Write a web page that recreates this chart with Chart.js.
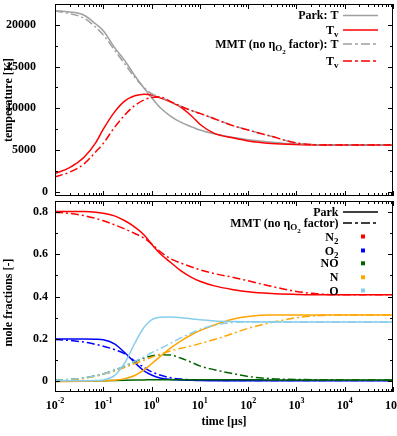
<!DOCTYPE html>
<html>
<head>
<meta charset="utf-8">
<script src="https://cdn.jsdelivr.net/npm/chart.js@4.4.1/dist/chart.umd.min.js"></script>
<style>
  html, body { margin: 0; padding: 0; background: #fff; }
  #wrap { position: relative; width: 397px; height: 436px; overflow: hidden; }
  #wrap canvas { position: absolute; left: 0; }
  #cTemp { top: 0; }
  #cMole { top: 196px; }
</style>
</head>
<body>
<div id="wrap">
  <canvas id="cTemp" width="397" height="200"></canvas>
  <canvas id="cMole" width="397" height="240"></canvas>
</div>
<script>
// ================== DATA ==================
const times = [0.01, 0.02, 0.04, 0.07, 0.1, 0.17, 0.28, 0.45, 0.7, 1, 1.5, 2.5, 4, 7, 10, 20, 50, 100, 300, 1000, 3000, 1e4, 1e5];

// temperature [K]
const parkT  = [21700, 21550, 21150, 20100, 19300, 17300, 15700, 13900, 12400, 11300, 10100, 9050, 8350, 7750, 7400, 6950, 6500, 6250, 5950, 5720, 5630, 5600, 5600];
const parkTv = [2200, 2900, 4150, 5900, 7500, 9550, 10900, 11500, 11700, 11600, 11250, 10750, 10150, 9000, 8100, 7000, 6450, 6100, 5800, 5660, 5610, 5600, 5600];
const mmtT   = [21650, 21350, 20800, 19700, 18800, 17000, 15300, 13700, 12500, 11750, 11350, 10800, 10250, 9700, 9400, 8750, 7900, 7400, 6650, 5850, 5620, 5600, 5600];
const mmtTv  = [1800, 2350, 3350, 4800, 5800, 7700, 9230, 10350, 11000, 11300, 11350, 10800, 10250, 9700, 9400, 8750, 7900, 7400, 6650, 5850, 5620, 5600, 5600];

// mole fractions [-]
const parkN2 = [0.800, 0.800, 0.800, 0.797, 0.792, 0.780, 0.757, 0.727, 0.690, 0.647, 0.603, 0.560, 0.522, 0.488, 0.472, 0.450, 0.432, 0.422, 0.414, 0.410, 0.408, 0.408, 0.408];
const mmtN2  = [0.797, 0.792, 0.781, 0.768, 0.757, 0.738, 0.718, 0.697, 0.675, 0.648, 0.612, 0.577, 0.558, 0.538, 0.526, 0.508, 0.490, 0.474, 0.448, 0.424, 0.412, 0.408, 0.408];
const parkO2 = [0.200, 0.200, 0.200, 0.199, 0.196, 0.177, 0.135, 0.088, 0.050, 0.030, 0.016, 0.009, 0.006, 0.005, 0.004, 0.003, 0.003, 0.003, 0.003, 0.003, 0.003, 0.003, 0.003];
const mmtO2  = [0.197, 0.193, 0.185, 0.174, 0.166, 0.150, 0.130, 0.095, 0.066, 0.045, 0.030, 0.017, 0.011, 0.007, 0.006, 0.005, 0.004, 0.004, 0.004, 0.004, 0.004, 0.004, 0.004];
const parkNO = [0.000, 0.001, 0.001, 0.002, 0.003, 0.004, 0.005, 0.006, 0.007, 0.008, 0.008, 0.008, 0.008, 0.008, 0.008, 0.008, 0.008, 0.008, 0.007, 0.007, 0.007, 0.007, 0.007];
const mmtNO  = [0.005, 0.009, 0.016, 0.026, 0.035, 0.053, 0.072, 0.093, 0.110, 0.120, 0.126, 0.124, 0.110, 0.088, 0.073, 0.055, 0.036, 0.023, 0.013, 0.009, 0.008, 0.007, 0.007];
const parkN  = [0.000, 0.000, 0.001, 0.002, 0.003, 0.005, 0.013, 0.028, 0.054, 0.083, 0.117, 0.158, 0.190, 0.222, 0.239, 0.266, 0.294, 0.306, 0.313, 0.313, 0.313, 0.313, 0.313];
const mmtN   = [0.003, 0.007, 0.014, 0.025, 0.034, 0.048, 0.066, 0.084, 0.100, 0.114, 0.128, 0.144, 0.156, 0.168, 0.178, 0.197, 0.227, 0.250, 0.277, 0.300, 0.310, 0.313, 0.313];
const parkO  = [0.003, 0.003, 0.003, 0.004, 0.007, 0.027, 0.088, 0.180, 0.255, 0.290, 0.302, 0.303, 0.300, 0.294, 0.290, 0.285, 0.282, 0.281, 0.280, 0.280, 0.280, 0.280, 0.280];
const mmtO   = [0.005, 0.009, 0.016, 0.026, 0.035, 0.053, 0.073, 0.095, 0.115, 0.135, 0.154, 0.180, 0.205, 0.230, 0.245, 0.265, 0.278, 0.280, 0.280, 0.280, 0.280, 0.280, 0.280];

// ticks
const xExponents = [-2, -1, 0, 1, 2, 3, 4, 5];
const tempTicks  = [0, 5000, 10000, 15000, 20000];
const moleTicks  = [0, 0.2, 0.4, 0.6, 0.8];

// ================== STYLE HELPERS ==================
const SERIF = '"Liberation Serif", "DejaVu Serif", serif';
const DASHDOT = [8, 3, 2, 3];
const C = { gray: '#a0a0a0', red: '#ff0000', blue: '#0000ff', green: '#006400', orange: '#ffa500', sky: '#87ceeb' };

const pts = (arr) => arr.map((v, i) => ({ x: times[i], y: v }));

function line(data, color, dashed, order) {
  return {
    data: pts(data), borderColor: color, borderWidth: 1.5,
    borderDash: dashed ? DASHDOT : [], pointRadius: 0,
    cubicInterpolationMode: 'monotone', fill: false, order
  };
}

// text with sub/sub-sub scripts: parts = [[text, level], ...]
const LEVEL = [{ s: 12, dy: 0 }, { s: 9, dy: 3 }, { s: 7, dy: 6 }];
function richWidth(ctx, parts) {
  let w = 0;
  parts.forEach(([t, l]) => { ctx.font = `bold ${LEVEL[l].s}px ${SERIF}`; w += ctx.measureText(t).width; });
  return w;
}
function drawRich(ctx, parts, xRight, yMid) {
  let x = xRight - richWidth(ctx, parts);
  ctx.textAlign = 'left';
  ctx.textBaseline = 'alphabetic';
  parts.forEach(([t, l]) => {
    ctx.font = `bold ${LEVEL[l].s}px ${SERIF}`;
    ctx.fillText(t, x, yMid + 4 + LEVEL[l].dy);
    x += ctx.measureText(t).width;
  });
}

// ================== PLUGINS ==================
// gnuplot-like frame with inward, mirrored ticks
const framePlugin = {
  id: 'frame',
  afterDatasetsDraw(chart, args, o) {
    const { ctx, chartArea: a, scales: { x, y } } = chart;
    ctx.save();
    ctx.strokeStyle = '#000';
    ctx.lineWidth = 1;
    ctx.beginPath();
    xExponents.forEach(e => {
      for (let m = 1; m <= 9; m++) {
        const v = m * Math.pow(10, e);
        if (v > x.max) break;
        const px = Math.round(x.getPixelForValue(v)) + 0.5;
        const len = m === 1 ? 5 : 3;
        ctx.moveTo(px, a.bottom); ctx.lineTo(px, a.bottom - len);
        ctx.moveTo(px, a.top); ctx.lineTo(px, a.top + len);
      }
    });
    for (let v = o.minorStart; v <= y.max + 1e-9; v += o.minor) {
      const py = Math.round(y.getPixelForValue(v)) + 0.5;
      const major = Math.abs(v / o.major - Math.round(v / o.major)) < 1e-6;
      const len = major ? 5 : 3;
      ctx.moveTo(a.left, py); ctx.lineTo(a.left + len, py);
      ctx.moveTo(a.right, py); ctx.lineTo(a.right - len, py);
    }
    ctx.stroke();
    ctx.strokeRect(Math.round(a.left) + 0.5, Math.round(a.top) + 0.5,
                   Math.round(a.right - a.left) - 1, Math.round(a.bottom - a.top) - 1);

    // y title
    ctx.fillStyle = '#000';
    ctx.font = `bold 12px ${SERIF}`;
    ctx.textAlign = 'center';
    ctx.textBaseline = 'middle';
    ctx.translate(8.5, o.titleY);
    ctx.rotate(-Math.PI / 2);
    ctx.fillText(o.title, 0, 0);
    ctx.restore();
  }
};

const legendPlugin = {
  id: 'gLegend',
  afterDraw(chart, args, o) {
    const ctx = chart.ctx;
    ctx.save();
    ctx.fillStyle = '#000';
    o.items.forEach(it => {
      drawRich(ctx, it.parts, 338.5, it.y);
      if (it.kind === 'square') {
        ctx.fillStyle = it.color;
        ctx.fillRect(361, it.y - 2, 4, 4);
        ctx.fillStyle = '#000';
      } else {
        ctx.strokeStyle = it.color;
        ctx.lineWidth = 1.5;
        ctx.setLineDash(it.dash ? [9, 3, 3, 3] : []);
        ctx.beginPath();
        ctx.moveTo(343, it.y + 0.5); ctx.lineTo(378, it.y + 0.5);
        ctx.stroke();
        ctx.setLineDash([]);
      }
    });
    ctx.restore();
  }
};

const xLabelsPlugin = {
  id: 'xLabels',
  afterDraw(chart, args, o) {
    if (!o.show) return;
    const { ctx, chartArea: a, scales: { x } } = chart;
    ctx.save();
    ctx.fillStyle = '#000';
    ctx.textBaseline = 'alphabetic';
    ctx.textAlign = 'left';
    xExponents.forEach(e => {
      const px = x.getPixelForValue(Math.pow(10, e));
      ctx.font = `bold 12px ${SERIF}`;
      const wb = ctx.measureText('10').width;
      ctx.font = `bold 8px ${SERIF}`;
      const ws = ctx.measureText(String(e)).width;
      const x0 = px - (wb + ws) / 2;
      ctx.font = `bold 12px ${SERIF}`;
      ctx.fillText('10', x0, a.bottom + 16.5);
      ctx.font = `bold 8px ${SERIF}`;
      ctx.fillText(String(e), x0 + wb, a.bottom + 10.5);
    });
    ctx.font = `bold 12px ${SERIF}`;
    ctx.textAlign = 'center';
    ctx.textBaseline = 'middle';
    ctx.fillText('time [\u03bcs]', (a.left + a.right) / 2, a.bottom + 30);
    ctx.restore();
  }
};

// ================== CHART BUILDERS ==================
Chart.defaults.font.family = SERIF;
Chart.defaults.color = '#000';

function yAxis(min, max, ticks, fmt) {
  return {
    type: 'linear', min, max,
    grid: { display: false, drawTicks: false },
    border: { display: false },
    afterBuildTicks: s => { s.ticks = ticks.map(v => ({ value: v })); },
    afterFit: s => { s.width = 55; s.paddingTop = 0; s.paddingBottom = 0; },
    ticks: { padding: 7, font: { size: 12, weight: 'bold' }, callback: fmt }
  };
}
const xAxis = () => ({ type: 'logarithmic', min: 0.01, max: 1e5, display: false });

// nudge layout padding so the plot frame lands where the reference has it
function pinArea(chart, want) {
  for (let i = 0; i < 3; i++) {
    const a = chart.chartArea;
    const p = chart.config.options.layout.padding;
    p.top += want.top - a.top;
    p.bottom += a.bottom - want.bottom;
    p.left += want.left - a.left;
    p.right += a.right - want.right;
    chart.update();
  }
}

const tempChart = new Chart(document.getElementById('cTemp'), {
  type: 'line',
  data: {
    datasets: [
      line(parkT, C.gray, false, 4),
      line(parkTv, C.red, false, 3),
      line(mmtT, C.gray, true, 2),
      line(mmtTv, C.red, true, 1)
    ]
  },
  options: {
    responsive: false, animation: false, events: [],
    layout: { padding: { top: 4, right: 4, bottom: 4, left: 0 } },
    scales: {
      x: xAxis(),
      y: yAxis(-500, 22500, tempTicks, v => v === 0 ? '0' : v + '\u2007\u2007')
    },
    plugins: {
      legend: { display: false }, tooltip: { enabled: false },
      frame: { major: 5000, minor: 2500, minorStart: 0, title: 'temperature [K]', titleY: 100 },
      gLegend: {
        items: [
          { parts: [['Park: T', 0]], y: 15, color: C.gray },
          { parts: [['T', 0], ['v', 1]], y: 29.5, color: C.red },
          { parts: [['MMT (no ', 0], ['\u03b7', 0], ['O', 1], ['2', 2], [' factor): T', 0]], y: 43.5, color: C.gray, dash: true },
          { parts: [['T', 0], ['v', 1]], y: 60.5, color: C.red, dash: true }
        ]
      },
      xLabels: { show: false }
    }
  },
  plugins: [framePlugin, legendPlugin, xLabelsPlugin]
});
pinArea(tempChart, { top: 4, bottom: 196, left: 55, right: 393 });

const moleChart = new Chart(document.getElementById('cMole'), {
  type: 'line',
  data: {
    datasets: [
      line(parkN2, C.red, false, 10),
      line(mmtN2, C.red, true, 9),
      line(parkO2, C.blue, false, 8),
      line(mmtO2, C.blue, true, 7),
      line(parkNO, C.green, false, 6),
      line(mmtNO, C.green, true, 5),
      line(parkN, C.orange, false, 4),
      line(mmtN, C.orange, true, 3),
      line(parkO, C.sky, false, 2),
      line(mmtO, C.sky, true, 1)
    ]
  },
  options: {
    responsive: false, animation: false, events: [],
    layout: { padding: { top: 5, right: 4, bottom: 44, left: 0 } },
    scales: {
      x: xAxis(),
      y: yAxis(-0.05, 0.85, moleTicks, v => String(Math.round(v * 10) / 10))
    },
    plugins: {
      legend: { display: false }, tooltip: { enabled: false },
      frame: { major: 0.2, minor: 0.1, minorStart: 0, title: 'mole fractions [-]', titleY: 106.5 },
      gLegend: {
        items: [
          { parts: [['Park', 0]], y: 15.5, color: '#000' },
          { parts: [['MMT (no ', 0], ['\u03b7', 0], ['O', 1], ['2', 2], [' factor)', 0]], y: 26.5, color: '#000', dash: true },
          { parts: [['N', 0], ['2', 1]], y: 40.5, kind: 'square', color: C.red },
          { parts: [['O', 0], ['2', 1]], y: 54.5, kind: 'square', color: C.blue },
          { parts: [['NO', 0]], y: 67.3, kind: 'square', color: C.green },
          { parts: [['N', 0]], y: 81.3, kind: 'square', color: C.orange },
          { parts: [['O', 0]], y: 94.5, kind: 'square', color: C.sky }
        ]
      },
      xLabels: { show: true }
    }
  },
  plugins: [framePlugin, legendPlugin, xLabelsPlugin]
});
pinArea(moleChart, { top: 5, bottom: 196, left: 55, right: 393 });
</script>
</body>
</html>
